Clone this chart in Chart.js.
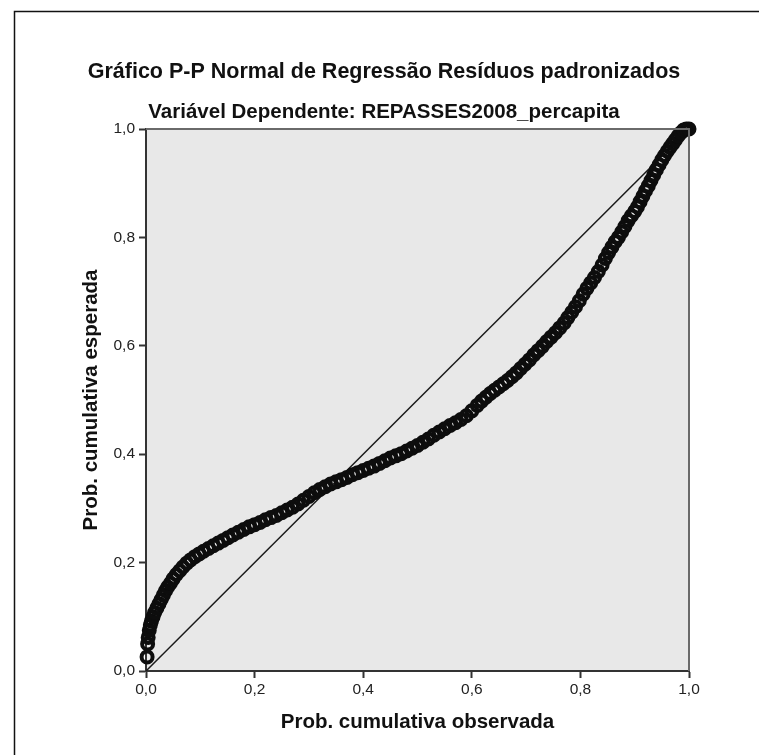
<!DOCTYPE html>
<html>
<head>
<meta charset="utf-8">
<script src="https://cdn.jsdelivr.net/npm/chart.js@4/dist/chart.umd.min.js"></script>
<style>
  html, body { margin: 0; padding: 0; background: #fff; }
  #wrap { width: 759px; height: 755px; position: relative; }
</style>
</head>
<body>
<div id="wrap"><canvas id="ppChart"></canvas></div>
<script>
// Prob. cumulativa observada (eixo x) / esperada (eixo y)
const observada = [
  0.002, 0.003, 0.004, 0.006, 0.008, 0.010, 0.013, 0.016, 0.020, 0.024,
  0.028, 0.032, 0.036, 0.040, 0.045, 0.050, 0.056, 0.062, 0.068, 0.075,
  0.082, 0.090, 0.098, 0.106, 0.115, 0.124, 0.133, 0.142, 0.151, 0.160,
  0.170, 0.180, 0.190, 0.200, 0.210, 0.220, 0.230, 0.240, 0.250, 0.260,
  0.270, 0.280, 0.290, 0.300, 0.310, 0.320, 0.330, 0.340, 0.350, 0.360,
  0.370, 0.380, 0.390, 0.400, 0.410, 0.420, 0.430, 0.440, 0.450, 0.460,
  0.470, 0.480, 0.490, 0.500, 0.510, 0.520, 0.530, 0.540, 0.550, 0.560,
  0.570, 0.580, 0.590, 0.600, 0.610, 0.618, 0.626, 0.634, 0.642, 0.650,
  0.658, 0.666, 0.674, 0.682, 0.690, 0.698, 0.706, 0.714, 0.722, 0.730,
  0.738, 0.746, 0.754, 0.762, 0.770, 0.777, 0.784, 0.791, 0.798, 0.805,
  0.812, 0.819, 0.826, 0.833, 0.840, 0.846, 0.852, 0.858, 0.864, 0.870,
  0.876, 0.882, 0.888, 0.894, 0.900, 0.905, 0.910, 0.915, 0.920, 0.925,
  0.930, 0.935, 0.940, 0.945, 0.950, 0.955, 0.960, 0.965, 0.970, 0.975,
  0.980, 0.985, 0.990, 0.995, 1.000
];
const esperada = [
  0.026, 0.050, 0.062, 0.075, 0.085, 0.092, 0.100, 0.108, 0.116, 0.124,
  0.132, 0.140, 0.148, 0.155, 0.162, 0.170, 0.178, 0.185, 0.192, 0.199,
  0.205, 0.211, 0.216, 0.221, 0.226, 0.231, 0.236, 0.241, 0.246, 0.251,
  0.256, 0.261, 0.266, 0.270, 0.274, 0.279, 0.283, 0.287, 0.292, 0.297,
  0.302, 0.308, 0.315, 0.322, 0.329, 0.335, 0.340, 0.345, 0.349, 0.353,
  0.357, 0.362, 0.366, 0.370, 0.374, 0.378, 0.383, 0.388, 0.393, 0.397,
  0.401, 0.406, 0.411, 0.416, 0.422, 0.428, 0.435, 0.441, 0.447, 0.453,
  0.458, 0.464, 0.471, 0.480, 0.490, 0.498, 0.505, 0.512, 0.518, 0.524,
  0.530, 0.536, 0.543, 0.550, 0.558, 0.566, 0.574, 0.583, 0.591, 0.599,
  0.608, 0.616, 0.624, 0.633, 0.642, 0.652, 0.662, 0.672, 0.683, 0.695,
  0.706, 0.716, 0.726, 0.737, 0.749, 0.761, 0.772, 0.782, 0.792, 0.800,
  0.810, 0.820, 0.831, 0.840, 0.848, 0.856, 0.866, 0.876, 0.886, 0.895,
  0.905, 0.915, 0.925, 0.934, 0.943, 0.951, 0.959, 0.966, 0.973, 0.980,
  0.987, 0.993, 0.998, 1.000, 1.000
];
// linha de referência (diagonal)
const diagonalX = [0, 1];
const diagonalY = [0, 1];
const ticks = [0, 0.2, 0.4, 0.6, 0.8, 1.0];

const pontos = observada.map((x, i) => ({ x: x, y: esperada[i] }));
const diagonal = diagonalX.map((x, i) => ({ x: x, y: diagonalY[i] }));

const fmt = v => v.toFixed(1).replace('.', ',');
const fonte = 'Liberation Sans, Arial, sans-serif';

// fundo da área do gráfico, bordas e moldura externa
const moldura = {
  id: 'moldura',
  beforeDraw(chart) {
    const { ctx, chartArea: a } = chart;
    ctx.save();
    ctx.strokeStyle = '#111';
    ctx.lineWidth = 1.5;
    ctx.beginPath();
    ctx.moveTo(14.5, 755);
    ctx.lineTo(14.5, 11.5);
    ctx.lineTo(759, 11.5);
    ctx.stroke();
    ctx.fillStyle = '#e8e8e8';
    ctx.fillRect(a.left, a.top, a.right - a.left, a.bottom - a.top);
    ctx.restore();
  },
  afterDatasetsDraw(chart) {
    const { ctx, chartArea: a } = chart;
    ctx.save();
    ctx.strokeStyle = '#6a6a6a';
    ctx.lineWidth = 2;
    ctx.beginPath();
    ctx.moveTo(a.left, a.top);
    ctx.lineTo(a.right, a.top);
    ctx.lineTo(a.right, a.bottom);
    ctx.stroke();
    ctx.restore();
  }
};

new Chart(document.getElementById('ppChart'), {
  type: 'scatter',
  data: {
    datasets: [
      {
        label: 'Resíduos',
        data: pontos,
        showLine: false,
        pointStyle: 'circle',
        pointRadius: 5.5,
        pointBorderWidth: 4,
        pointBackgroundColor: 'rgba(0,0,0,0)',
        pointBorderColor: '#0d0d0d',
        clip: false
      },
      {
        type: 'line',
        label: 'Diagonal',
        data: diagonal,
        borderColor: '#1a1a1a',
        borderWidth: 1.5,
        pointRadius: 0,
        fill: false
      }
    ]
  },
  options: {
    responsive: true,
    maintainAspectRatio: false,
    animation: false,
    layout: { padding: { left: 79, right: 70, top: 0, bottom: 14 } },
    plugins: {
      legend: { display: false },
      tooltip: { enabled: false },
      title: {
        display: true,
        text: 'Gráfico P-P Normal de Regressão Resíduos padronizados',
        color: '#111',
        font: { family: fonte, size: 21.5, weight: 'bold', lineHeight: 1.2 },
        padding: { top: 59, bottom: 0 }
      },
      subtitle: {
        display: true,
        text: 'Variável Dependente: REPASSES2008_percapita',
        color: '#111',
        font: { family: fonte, size: 20.5, weight: 'bold', lineHeight: 1.2 },
        padding: { top: 15, bottom: 4.6 }
      }
    },
    scales: {
      x: {
        type: 'linear',
        min: 0,
        max: 1,
        afterBuildTicks: s => { s.ticks = ticks.map(v => ({ value: v })); },
        afterFit: s => { s.height = 70; },
        ticks: {
          callback: fmt,
          color: '#222',
          padding: 2,
          maxRotation: 0,
          font: { family: fonte, size: 15.5 }
        },
        grid: { drawOnChartArea: false, drawTicks: true, tickLength: 7, tickWidth: 2, color: '#333' },
        border: { display: true, color: '#333', width: 2 },
        title: {
          display: true,
          text: 'Prob. cumulativa observada',
          color: '#111',
          font: { family: fonte, size: 20.5, weight: 'bold', lineHeight: 1.2 },
          padding: { top: 0, bottom: 6.5 }
        }
      },
      y: {
        type: 'linear',
        min: 0,
        max: 1,
        afterBuildTicks: s => { s.ticks = ticks.map(v => ({ value: v })); },
        afterFit: s => { s.width = 67; },
        ticks: {
          callback: fmt,
          color: '#222',
          padding: 4,
          font: { family: fonte, size: 15.5 }
        },
        grid: { drawOnChartArea: false, drawTicks: true, tickLength: 7, tickWidth: 2, color: '#333' },
        border: { display: true, color: '#333', width: 2 },
        title: {
          display: true,
          text: 'Prob. cumulativa esperada',
          color: '#111',
          font: { family: fonte, size: 20.5, weight: 'bold', lineHeight: 1.2 },
          padding: { top: 0, bottom: 0 }
        }
      }
    }
  },
  plugins: [moldura]
});
</script>
</body>
</html>
